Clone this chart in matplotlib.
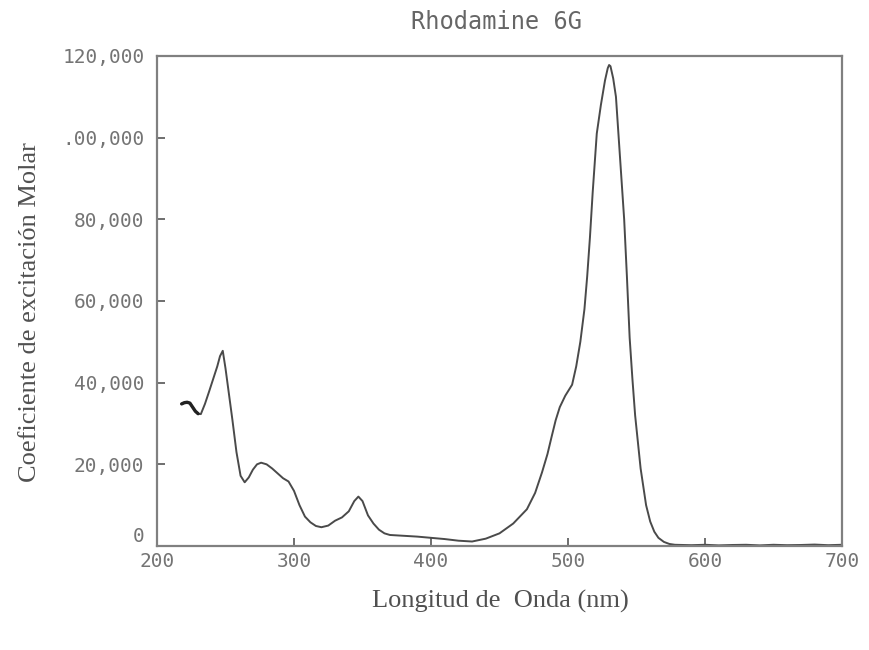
import matplotlib
matplotlib.use("Agg")
import matplotlib.pyplot as plt
from matplotlib.ticker import FixedLocator, FixedFormatter

# Rhodamine 6G absorption spectrum (molar extinction coefficient vs wavelength)
wavelength_nm = [
    218, 220, 222, 224, 226, 228, 230, 232, 235, 238, 241, 244, 246, 248,
    250, 252, 255, 258, 261, 264, 267, 270, 273, 276, 280, 284, 288, 292,
    296, 300, 304, 308, 312, 316, 320, 325, 330, 335, 340, 344, 347, 350,
    354, 358, 362, 366, 370, 380, 390, 400, 410, 420, 430, 440, 450, 460,
    470, 476, 481, 485, 488, 491, 494, 498, 503, 506, 509, 512, 514, 516,
    518, 521, 524, 527, 529, 530, 531, 533, 535, 537, 539, 541, 543, 545,
    547, 549, 551, 553, 555, 557, 560, 563, 566, 570, 574, 578, 590, 600,
    610, 620, 630, 640, 650, 660, 670, 680, 690, 700,
]
molar_coeff = [
    34800, 35100, 35200, 35000, 34000, 33000, 32400, 32300, 34800, 37800,
    40900, 44000, 46500, 47800, 43500, 38500, 31000, 23000, 17200, 15600,
    16800, 18700, 20000, 20400, 20000, 19000, 17800, 16600, 15800, 13500,
    10000, 7200, 5800, 4900, 4600, 5000, 6200, 7000, 8500, 11000, 12100,
    11000, 7500, 5500, 4000, 3100, 2700, 2500, 2300, 2000, 1700, 1300,
    1100, 1800, 3100, 5500, 9000, 13000, 18000, 22500, 26700, 30800, 34000,
    36800, 39500, 44000, 50000, 58000, 66000, 75500, 86500, 101000, 108000,
    114000, 117000, 117800, 117500, 114500, 110000, 100000, 90000, 80000,
    66000, 51000, 41000, 32000, 25500, 19000, 14500, 10000, 6000, 3500,
    2000, 1000, 500, 300, 200, 300, 150, 250, 300, 150, 300, 200, 250, 350,
    200, 300,
]

x_ticks = [200, 300, 400, 500, 600, 700]
x_tick_labels = ["200", "300", "400", "500", "600", "700"]
y_ticks = [0, 20000, 40000, 60000, 80000, 100000, 120000]
y_tick_labels = ["0", "20,000", "40,000", "60,000", "80,000", ".00,000", "120,000"]

title_text = "Rhodamine 6G"
x_label = "Longitud de  Onda (nm)"
y_label = "Coeficiente de excitación Molar"

fig = plt.figure(figsize=(8.7, 6.5), dpi=100)
ax = fig.add_axes([157 / 870, 1 - 546 / 650, (842 - 157) / 870, (546 - 56) / 650])

ax.plot(wavelength_nm, molar_coeff, color="#4a4a4a", lw=1.4, solid_joinstyle="round")
# the short stretch at the start of the scan is traced heavier
n_start = sum(1 for w in wavelength_nm if w <= 230)
ax.plot(wavelength_nm[:n_start], molar_coeff[:n_start], color="#222222", lw=2.4,
        solid_capstyle="round")

ax.set_xlim(200, 700)
ax.set_ylim(0, 120000)

ax.xaxis.set_major_locator(FixedLocator(x_ticks))
ax.xaxis.set_major_formatter(FixedFormatter(x_tick_labels))
ax.yaxis.set_major_locator(FixedLocator(y_ticks))
ax.yaxis.set_major_formatter(FixedFormatter(y_tick_labels))

mono = "DejaVu Sans Mono"
ax.tick_params(axis="both", direction="in", length=6, width=1.2, color="#555555",
               labelcolor="#747474", labelsize=14)
ax.tick_params(axis="x", pad=4)
ax.tick_params(axis="y", pad=9)
for lab in ax.get_xticklabels() + ax.get_yticklabels():
    lab.set_fontfamily(mono)
# the zero label sits just above the corner, clear of the wavelength labels
ax.get_yticklabels()[0].set_verticalalignment("bottom")

for side in ["left", "right", "top", "bottom"]:
    ax.spines[side].set_color("#808080")
    ax.spines[side].set_linewidth(1.6)

fig.text(497 / 870, 1 - 22 / 650, title_text, ha="center", va="center",
         fontsize=17, family=mono, color="#666666")
fig.text(500 / 870, 1 - 601 / 650, x_label, ha="center", va="center",
         fontsize=19, family="Liberation Serif", color="#505050")
fig.text(30 / 870, 1 - 312 / 650, y_label, ha="center", va="center",
         rotation=90, fontsize=19, family="Liberation Serif", color="#505050")

fig.savefig("out.png", dpi=100, facecolor="white")
